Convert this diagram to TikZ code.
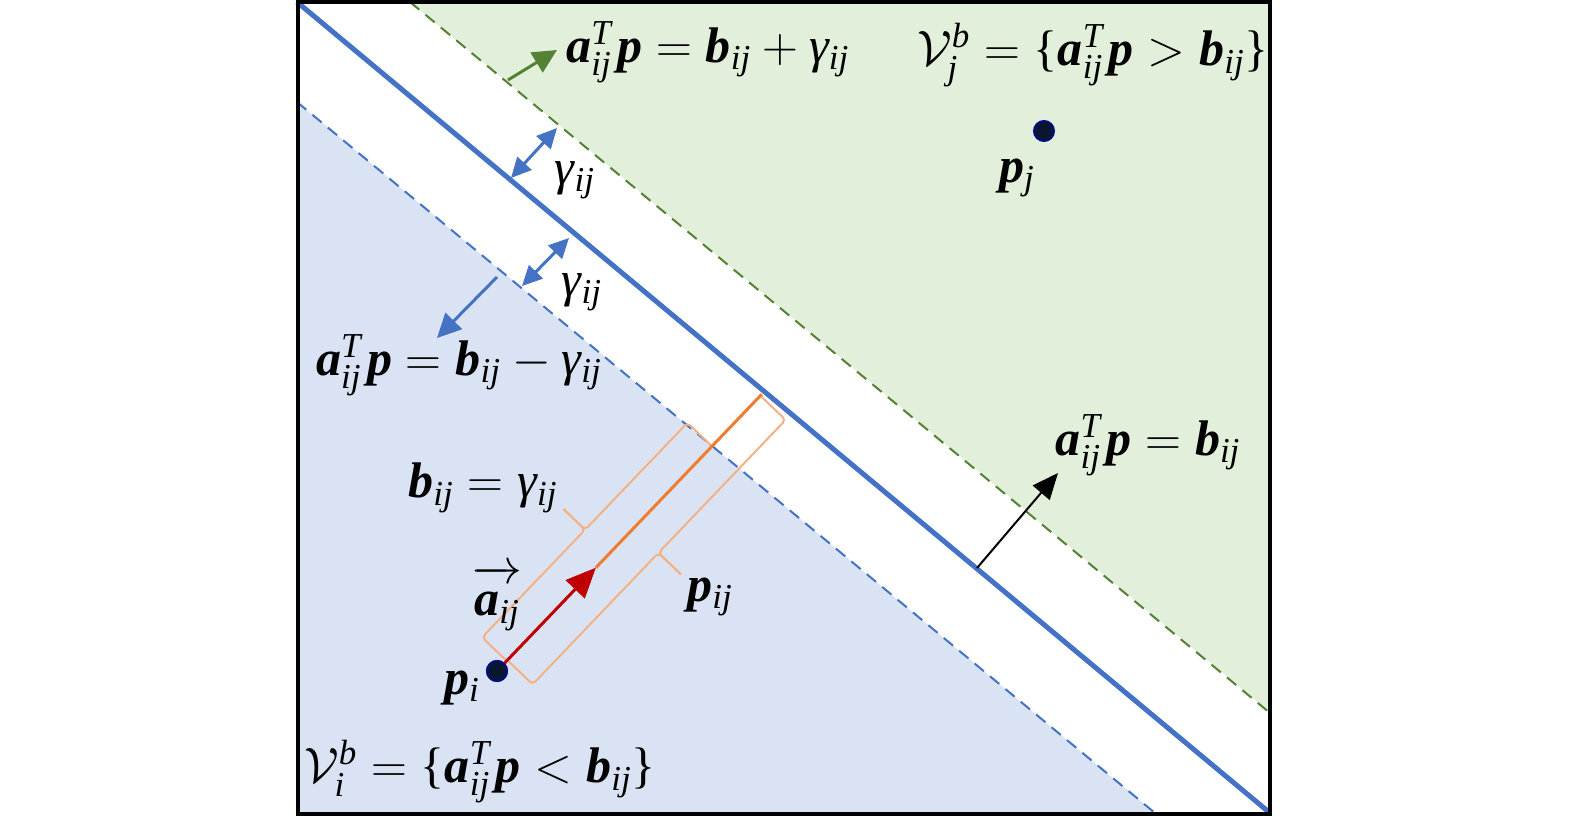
\documentclass[tikz,border=0pt]{standalone}
\usepackage{amsmath}
\usepackage{fontspec}
\newfontfamily\tms{Liberation Serif}[NFSSFamily=libser]
\DeclareMathAlphabet{\mathbi}{TU}{libser}{b}{it}
\DeclareMathAlphabet{\mathti}{TU}{libser}{m}{it}
\DeclareSymbolFont{tmsit}{TU}{libser}{m}{it}
\DeclareSymbolFont{tmsup}{TU}{libser}{m}{n}
\Umathchardef\tgam="0 \symtmsit "03B3
\Umathchardef\tlb="4 \symtmsup "007B
\Umathchardef\trb="5 \symtmsup "007D
\newcommand{\gij}{\tgam_{\mathti{ij}}}
\newcommand{\aij}{\mathbi{a}^{\mathti{T}}_{\mathti{ij}}\mkern2mu\mathbi{p}}
\newcommand{\bij}{\mathbi{b}_{\mathti{ij}}}
\usetikzlibrary{arrows.meta}
\definecolor{gfill}{HTML}{E2EFDA}
\definecolor{bfill}{HTML}{DAE3F3}
\definecolor{bline}{HTML}{4472C4}
\definecolor{gline}{HTML}{548235}
\definecolor{oline}{HTML}{ED7D31}
\definecolor{obrace}{HTML}{F4B183}
\definecolor{rline}{HTML}{C00000}
\definecolor{dotc}{HTML}{0A1630}
\tikzset{
  lbl/.style={inner sep=0pt, font=\fontsize{25}{30}\selectfont},
  dotnode/.style={circle, fill=dotc, draw=dotc!60!blue, line width=1pt, minimum size=10pt, inner sep=0pt},
  dbl/.style={bline, line width=1.5pt, {Triangle[length=10pt,width=9.5pt]}-{Triangle[length=10pt,width=9.5pt]}},
  sgl/.style={line width=1.5pt, -{Triangle[length=12pt,width=11.5pt]}},
  bracestyle/.style={obrace, line width=1pt, rounded corners=2pt},
}
\begin{document}
\begin{tikzpicture}[x=0.5pt,y=-0.5pt]
\useasboundingbox (0,0) rectangle (1575,819);
\fill[white] (0,0) rectangle (1575,819);
% regions
\fill[gfill] (410,2) -- (1270,2) -- (1270,712) -- cycle;
\fill[bfill] (297,102) -- (1155,813) -- (297,813) -- cycle;
% lines
\coordinate (g1) at (410,2); \coordinate (g2) at (1270,713);
\coordinate (d1) at (297,102); \coordinate (d2) at (1155,813);
\coordinate (m1) at (297,2); \coordinate (m2) at (1270,813);
\draw[gline, line width=1pt, dash pattern=on 6pt off 4pt] (g1) -- (g2);
\draw[bline, line width=1pt, dash pattern=on 6pt off 4pt] (d1) -- (d2);
\draw[bline, line width=2.5pt] (m1) -- (m2);
% frame
\draw[black, line width=2pt] (298,2) rectangle (1270,814);

% gamma arrows
\coordinate (ga1) at (511,178); \coordinate (ga2) at (557,128);
\draw[dbl] (ga1) -- (ga2);
\coordinate (gb1) at (522,286); \coordinate (gb2) at (569,238);
\draw[dbl] (gb1) -- (gb2);
\node[lbl] (gam1) at (575,180) {$\gij$};
\node[lbl] (gam2) at (582,292) {$\gij$};

% green arrow
\coordinate (gr1) at (508,80); \coordinate (gr2) at (557,50);
\draw[gline, sgl] (gr1) -- (gr2);
\node[lbl, anchor=west] (lblG) at (566,52) {$\aij=\bij+\gij$};

% blue arrow
\coordinate (bl1) at (497,277); \coordinate (bl2) at (437,338);
\draw[bline, sgl] (bl1) -- (bl2);
\node[lbl] (lblB) at (459,365) {$\aij=\bij-\gij$};

% black arrow
\coordinate (k1) at (977,568); \coordinate (k2) at (1058,473);
\draw[black, line width=1pt, -{Triangle[length=13pt,width=11pt]}] (k1) -- (k2);
\node[lbl] (lblM) at (1148,445) {$\aij=\bij$};

% regions labels
\node[lbl] (Vj) at (1093,55) {$\mathcal{V}^{\mathti{b}}_{\mathti{j}}=\tlb\aij>\bij\trb$};
\node[lbl] (Vi) at (480,772) {$\mathcal{V}^{\mathti{b}}_{\mathti{i}}=\tlb\aij<\bij\trb$};

% points
\node[dotnode] (pjdot) at (1044,131) {};
\node[lbl] (pj) at (1017,178) {$\mathbi{p}_{\mathti{j}}$};

% vector and braces
\begin{scope}[shift={(497,671)}, rotate=46.27]
  \coordinate (atip) at (143,0);
  \coordinate (otop) at (383,0);
  \draw[bracestyle] (14,0) -- (14,-34) -- (163,-34) -- (163,-64);
  \draw[bracestyle] (163,-64) -- (163,-34) -- (311,-34) -- (311,0);
  \draw[bracestyle] (15,0) -- (15,35) -- (197,35) -- (197,66);
  \draw[bracestyle] (197,66) -- (197,35) -- (381,35) -- (381,0);
\end{scope}
\node[dotnode] (pidot) at (497,671) {};
\draw[oline, line width=1.5pt] (atip) -- (otop);
\draw[rline, line width=1.5pt, -{Triangle[length=15pt,width=13pt]}] (pidot.center) -- (atip);
\node[dotnode] at (497,671) {};

\node[lbl] (pi) at (462,688) {$\mathbi{p}_{\mathti{i}}$};
\node[lbl] (veca) at (497,598) {$\overrightarrow{\rule{0pt}{0.65em}\mathbi{a}_{\mathti{ij}}}$};
\node[lbl] (pij) at (710,597) {$\mathbi{p}_{\mathti{ij}}$};
\node[lbl] (bij) at (483,488) {$\bij=\gij$};
\end{tikzpicture}
\end{document}
